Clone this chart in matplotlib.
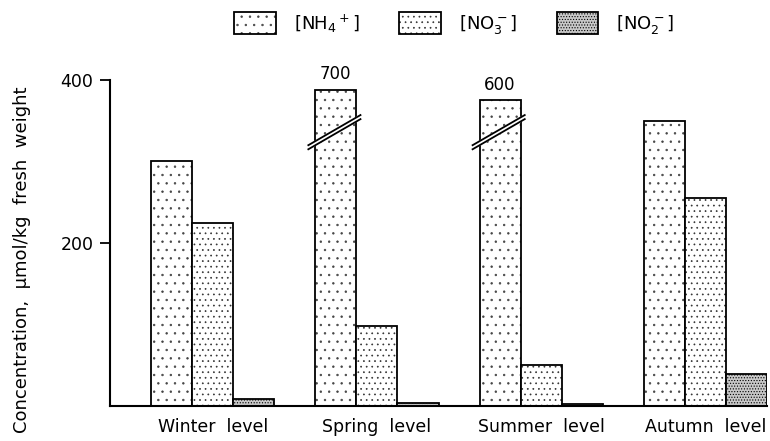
import matplotlib.pyplot as plt
import numpy as np

seasons = ["Winter  level", "Spring  level", "Summer  level", "Autumn  level"]
nh4 = [300, 700, 600, 350]          # true values
nh4_drawn = [300, 388, 375, 350]    # heights drawn on the broken axis
no3 = [224, 98, 50, 255]
no2 = [9, 4, 2, 39]
legend_labels = [r"[NH$_4$$^+$]", r"[NO$_3^-$]", r"[NO$_2^-$]"]
hatches = ['..', '...', '......']
dot_colors = ['#444444', '#333333', '#000000']
fill_colors = ['white', 'white', '#c8c8c8']

plt.rcParams['font.family'] = ['DejaVu Sans']
plt.rcParams['mathtext.fontset'] = 'dejavusans'
plt.rcParams['hatch.linewidth'] = 0.5

fig = plt.figure(figsize=(7.7, 4.41), dpi=100)
ax = fig.add_axes([110/770, 35/441, 657/770, 326/441])

x = np.arange(len(seasons)) * 4 + 1.5
w = 1.0

def hatched_bars(xpos, heights, i):
    # dots drawn first, black outline on top
    ax.bar(xpos, heights, width=w, facecolor=fill_colors[i], edgecolor=dot_colors[i],
           linewidth=0, hatch=hatches[i])
    return ax.bar(xpos, heights, width=w, facecolor='none', edgecolor='black',
                  linewidth=1.3)

b1 = hatched_bars(x, nh4_drawn, 0)
b2 = hatched_bars(x + w, no3, 1)
b3 = hatched_bars(x + 2*w, no2, 2)

# broken bars with the real value written on top
for rect, real, shown in zip(b1, nh4, nh4_drawn):
    if real == shown:
        continue
    x0 = rect.get_x() - 0.17
    x1 = rect.get_x() + rect.get_width() + 0.1
    y0, y1 = 315, 352
    gap = 5
    ax.fill([x0, x1, x1, x0], [y0, y1, y1 + gap, y0 + gap], color='white', zorder=3)
    ax.plot([x0, x1], [y0, y1], color='black', lw=1.3, zorder=4)
    ax.plot([x0, x1], [y0 + gap, y1 + gap], color='black', lw=1.3, zorder=4)
    ax.text(rect.get_x() + w/2, shown + 8, str(real), ha='center', va='bottom', fontsize=12)

ax.set_xlim(0, 16)
ax.set_ylim(0, 400)
ax.set_yticks([200, 400])
ax.set_xticks(x + w)
ax.set_xticklabels(seasons)
ax.tick_params(axis='x', length=0, pad=9, labelsize=12.5)
ax.tick_params(axis='y', length=7, width=1.3, pad=5, labelsize=12.5)
for s in ['top', 'right']:
    ax.spines[s].set_visible(False)
for s in ['left', 'bottom']:
    ax.spines[s].set_linewidth(1.5)
ax.set_ylabel("Concentration,  µmol/kg  fresh  weight", fontsize=13)
ax.yaxis.set_label_coords(-0.12, 0.45)

leg_handles = []
for i in range(3):
    dots = plt.Rectangle((0, 0), 1, 1, facecolor=fill_colors[i], edgecolor=dot_colors[i],
                         hatch=hatches[i], linewidth=0)
    frame = plt.Rectangle((0, 0), 1, 1, facecolor='none', edgecolor='black', linewidth=1.3)
    leg_handles.append((dots, frame))
fig.legend(leg_handles, legend_labels, loc='center', bbox_to_anchor=(0.59, 0.945), ncol=3,
           frameon=False, fontsize=13, handlelength=2.3, handleheight=1.5,
           handletextpad=1.0, columnspacing=2.2)

fig.savefig("out.png", dpi=100)
